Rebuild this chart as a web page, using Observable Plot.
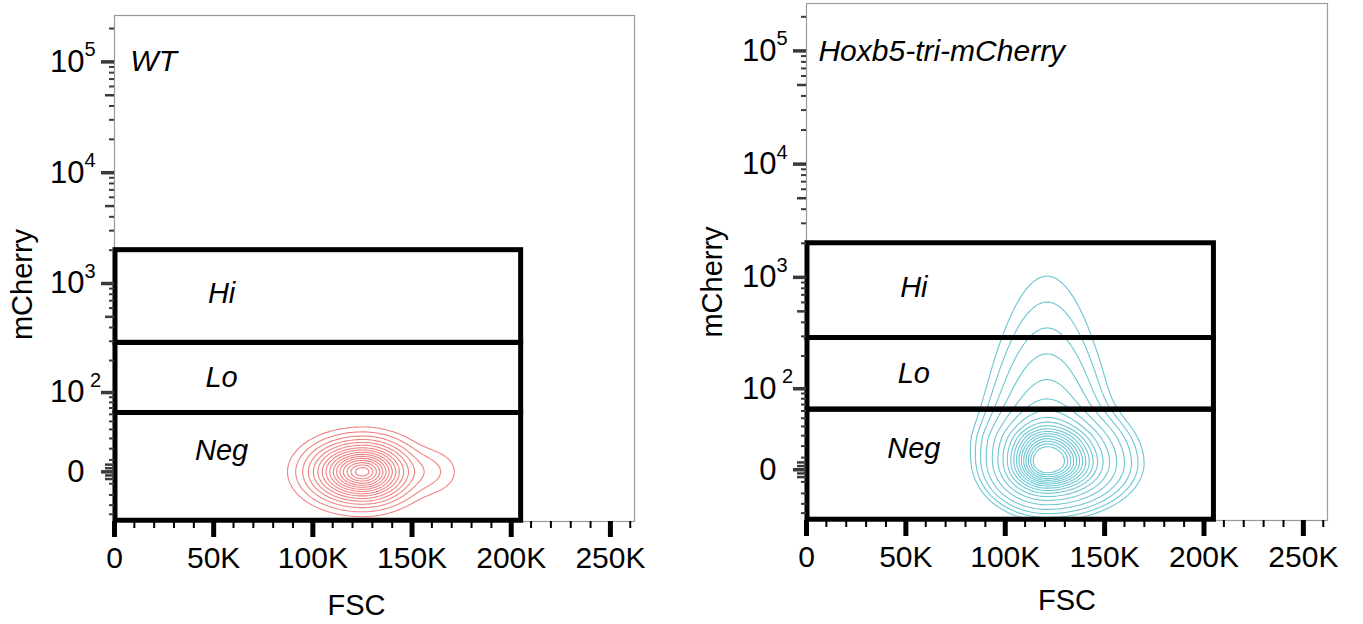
<!DOCTYPE html>
<html><head><meta charset="utf-8">
<script src="https://cdn.jsdelivr.net/npm/d3@7"></script>
<script src="https://cdn.jsdelivr.net/npm/@observablehq/plot@0.6"></script>
<style>
body{margin:0;background:#fff;}
#chart{position:relative;width:1363px;height:624px;overflow:hidden;background:#fff;}
#chart svg{position:absolute;top:0;}
</style></head><body><div id="chart"></div>
<script>
// ---------- data ----------
const fscMax = 262144;
const mcherryMin = -49;
const mcherryMax = 262144;
const fscTicksMajor = [0, 50000, 100000, 150000, 200000, 250000];
const fscTickLabels = ["0", "50K", "100K", "150K", "200K", "250K"];
const fscTicksMinor = [10000, 20000, 30000, 40000, 60000, 70000, 80000, 90000, 110000, 120000, 130000, 140000, 160000, 170000, 180000, 190000, 210000, 220000, 230000, 240000, 260000];
const mcherryDecades = [100, 1000, 10000, 100000];
const mcherryDecadeBase = ["10", "10", "10", "10"];
const mcherryExponents = ["\u00a02", "3", "4", "5"];
const mcherryZero = [0];
const mcherryZeroLabel = ["0"];
const mcherryMid = [-6, -3, 3, 6, 500, 5000, 50000];
const mcherryMinor = [-40, -30, -20, -10, 10, 20, 30, 40, 50, 60, 70, 80, 90, 200, 300, 400, 600, 700, 800, 900, 2000, 3000, 4000, 6000, 7000, 8000, 9000, 20000, 30000, 40000, 60000, 70000, 80000, 90000, 200000];

const gateNames = ["Hi", "Lo", "Neg"];
const gateLow = [290, 62, -48];
const gateHigh = [2000, 290, 62];
const gateFscMin = 500;
const gateFscMax = 205000;
const gateLabelFsc = [54000, 54000, 54000];
const gateLabelMcherry = [810, 138, 18];

const panelTitles = ["WT", "Hoxb5-tri-mCherry"];
const panelTitleFsc = [8000, 6000];
const panelTitleMcherry = [100000, 100000];
const panelColors = ["#f08282", "#6cc6d3"];

// cell populations (centre and spread)
const wtPopulations = [
  {fsc: 125000, sdFscLeft: 12700, sdFscRight: 11500, mcherry: 0, sdDown: 0.136, sdUp: 0.136, weight: 1},
  {fsc: 158000, sdFscLeft: 9000, sdFscRight: 9000, mcherry: 0, sdDown: 0.12, sdUp: 0.12, weight: 0.035}
];
const hoxPopulations = [
  {fsc: 121000, sdFscLeft: 11000, sdFscRight: 14500, mcherry: 5, sdDown: 0.15, sdUp: 0.18, weight: 1},
  {fsc: 121000, sdFscLeft: 12500, sdFscRight: 12500, mcherry: 30, sdDown: 0.2, tailUp: 0.33, weight: 0.25}
];
const wtLevels = [0.012, 0.03, 0.06, 0.1, 0.15, 0.21, 0.28, 0.35, 0.43, 0.51, 0.59, 0.67, 0.75, 0.83, 0.9, 0.96];
const hoxLevels = [0.0035, 0.007, 0.014, 0.028, 0.056, 0.1, 0.16, 0.23, 0.3, 0.37, 0.44, 0.51, 0.58, 0.65, 0.72, 0.79, 0.86, 0.93];

// ---------- display transform (biexponential-like, arcsinh) ----------
const T = v => Math.asinh(v / 40) / Math.LN10;

function density(pops) {
  return (x, y) => {
    let s = 0;
    for (const p of pops) {
      const sx = x < p.fsc ? p.sdFscLeft : p.sdFscRight;
      const dy = y - T(p.mcherry);
      let gy;
      if (dy < 0) gy = Math.exp(-dy * dy / (2 * p.sdDown * p.sdDown));
      else if (p.tailUp) gy = Math.exp(-dy / p.tailUp);
      else gy = Math.exp(-dy * dy / (2 * p.sdUp * p.sdUp));
      s += p.weight * Math.exp(-((x - p.fsc) ** 2) / (2 * sx * sx)) * gy;
    }
    return s;
  };
}

const FONT = "'Liberation Sans', Arial, Helvetica, sans-serif";

function panel(i, pops, levels, geo) {
  const svg = Plot.plot({
    width: geo.width, height: 624,
    marginLeft: geo.ml, marginRight: geo.mr, marginTop: geo.mt, marginBottom: geo.mb,
    style: {fontFamily: FONT, background: "transparent", color: "black", overflow: "visible"},
    x: {domain: [0, fscMax], label: null},
    y: {domain: [T(mcherryMin), T(mcherryMax)], label: null},
    marks: [
      Plot.frame({stroke: "#9a9a9a", strokeWidth: 1.2}),
      Plot.contour(null, {
        value: density(pops), x1: 40000, x2: 230000, y1: T(mcherryMin), y2: T(3000),
        thresholds: levels, stroke: panelColors[i], strokeWidth: 1.1, fill: "none", clip: "frame"
      }),
      Plot.rect(gateNames, {
        x1: () => gateFscMin, x2: () => gateFscMax,
        y1: (d, j) => T(gateLow[j]), y2: (d, j) => T(gateHigh[j]),
        fill: "none", stroke: "black", strokeWidth: 5
      }),
      Plot.text(gateNames, {
        x: (d, j) => gateLabelFsc[j], y: (d, j) => T(gateLabelMcherry[j]), text: d => d,
        fontSize: 29, fontStyle: "italic", fill: "black"
      }),
      Plot.text([panelTitles[i]], {
        x: () => panelTitleFsc[i], y: () => T(panelTitleMcherry[i]), text: d => d,
        textAnchor: "start", fontSize: 30, fontStyle: "italic", fill: "black"
      }),
      // x axis
      Plot.axisX(fscTicksMinor, {tickSize: 7, strokeWidth: 2, stroke: "black", fill: "none", label: null}),
      Plot.axisX(fscTicksMajor, {
        tickSize: 16, strokeWidth: 5, stroke: "black", tickPadding: 9, fontSize: 30,
        tickFormat: d => fscTickLabels[fscTicksMajor.indexOf(d)], label: null
      }),
      // y axis ticks
      Plot.axisY(mcherryMinor.map(T), {tickSize: 5, strokeWidth: 2, stroke: "#3a3a3a", fill: "none", label: null}),
      Plot.axisY(mcherryMid.map(T), {tickSize: 9, strokeWidth: 2.5, stroke: "#3a3a3a", fill: "none", label: null}),
      Plot.axisY(mcherryDecades.concat(mcherryZero).map(T), {tickSize: 13, strokeWidth: 3.5, stroke: "#3a3a3a", fill: "none", label: null}),
      // y tick labels
      Plot.text(mcherryDecades, {
        y: d => T(d), frameAnchor: "left", text: (d, j) => mcherryDecadeBase[j],
        dx: -30, textAnchor: "end", lineAnchor: "middle", fontSize: 31, fill: "black"
      }),
      Plot.text(mcherryDecades, {
        y: d => T(d), frameAnchor: "left", text: (d, j) => mcherryExponents[j],
        dx: -30, dy: -12, textAnchor: "start", lineAnchor: "middle", fontSize: 20, fill: "black"
      }),
      Plot.text(mcherryZero, {
        y: d => T(d), frameAnchor: "left", text: (d, j) => mcherryZeroLabel[j],
        dx: -30, textAnchor: "end", lineAnchor: "middle", fontSize: 31, fill: "black"
      }),
      // axis titles
      Plot.text(["mCherry"], {frameAnchor: "left", rotate: -90, textAnchor: "middle", lineAnchor: "middle",
        dx: geo.ylabDx, dy: geo.ylabDy, fontSize: 29, fill: "black"}),
      Plot.text(["FSC"], {frameAnchor: "bottom", textAnchor: "middle", lineAnchor: "middle",
        dx: geo.xlabDx, dy: geo.xlabDy, fontSize: 29, fill: "black"})
    ]
  });
  svg.style.left = geo.left + "px";
  return svg;
}

const chart = document.getElementById("chart");
chart.appendChild(panel(0, wtPopulations, wtLevels,
  {left: 0, width: 680, ml: 114, mr: 46, mt: 15, mb: 103, ylabDx: -92, ylabDy: 16, xlabDx: -18, xlabDy: 84}));
chart.appendChild(panel(1, hoxPopulations, hoxLevels,
  {left: 690, width: 673, ml: 116, mr: 36, mt: 3, mb: 104, ylabDx: -94, ylabDy: 20, xlabDx: 0, xlabDy: 80}));
</script></body></html>
